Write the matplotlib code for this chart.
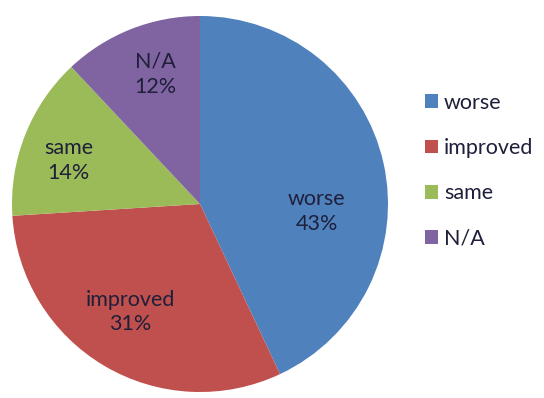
import matplotlib.pyplot as plt

labels = ['worse', 'improved', 'same', 'N/A']
values = [43, 31, 14, 12]
colors = ['#4F81BD', '#C0504D', '#9BBB59', '#8064A2']
# label positions (in pie radius units), Excel "best fit" style
label_pos = [(0.62, -0.04), (-0.37, -0.575), (-0.70, 0.23), (-0.24, 0.69)]

plt.rcParams['font.family'] = ['Lato', 'DejaVu Sans']

fig = plt.figure(figsize=(5.44, 3.98), dpi=100)
ax = fig.add_axes([12/544, 6/398, 376/544, 376/398])
wedges, _ = ax.pie(values, colors=colors, startangle=90, counterclock=False,
                   radius=1.0, wedgeprops=dict(linewidth=0))
ax.set_xlim(-1, 1)
ax.set_ylim(-1, 1)
ax.set_aspect('equal')

for lab, v, (x, y) in zip(labels, values, label_pos):
    ax.text(x, y, '%s\n%d%%' % (lab, v), ha='center', va='center',
            fontsize=15.5, color='#1F1F3A', linespacing=1.3)

leg = fig.legend(wedges, labels, loc='upper left', bbox_to_anchor=(416/544, 1 - 84/398),
                 frameon=False, fontsize=15.5, handlelength=0.6, handleheight=0.6,
                 handletextpad=0.3, labelspacing=1.18, borderaxespad=0)
for t in leg.get_texts():
    t.set_color('#1F1F3A')

fig.savefig('out.png', dpi=100)
